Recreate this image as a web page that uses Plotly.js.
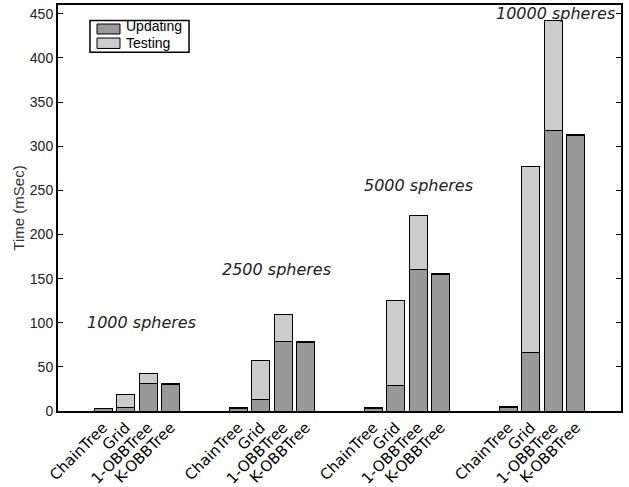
<!DOCTYPE html>
<html>
<head>
<meta charset="utf-8">
<script src="https://cdn.plot.ly/plotly-3.0.1.min.js"></script>
<style>html,body{margin:0;padding:0;background:#fff;}#chart{width:629px;height:487px;}</style>
</head>
<body>
<div id="chart"></div>
<script>
var categories = ['ChainTree', 'Grid', '1-OBBTree', 'K-OBBTree'];
var groups = ['1000 spheres', '2500 spheres', '5000 spheres', '10000 spheres'];
var seriesNames = ['Updating', 'Testing'];
var updating = [
  [2.5, 3.5, 31, 30],
  [3, 12.5, 79, 77.5],
  [2.5, 29, 160, 155],
  [3.5, 66.5, 317.5, 312.5]
];
var testing = [
  [0.5, 15, 12, 1],
  [1, 44.5, 30.5, 1],
  [2, 96, 61, 1],
  [1.5, 210.5, 124.5, 1]
];
var yTicks = [0, 50, 100, 150, 200, 250, 300, 350, 400, 450];

// layout-only placement of the group captions (data coords)
var labelPos = [[1.69, 100], [7.72, 160], [13.99, 256], [20.07, 450]];

var SLOT = 6;
var colors = ['#999999', '#cccccc'];
var xs = [], upd = [], tst = [], ticktext = [];
groups.forEach(function (g, gi) {
  categories.forEach(function (c, ci) {
    xs.push(gi * SLOT + ci);
    upd.push(updating[gi][ci]);
    tst.push(testing[gi][ci]);
    ticktext.push(c);
  });
});

var lineStyle = {color: '#000', width: 1};
var traces = [
  {type: 'bar', name: seriesNames[0], x: xs, y: upd, width: 0.8,
   marker: {color: colors[0], line: lineStyle}},
  {type: 'bar', name: seriesNames[1], x: xs, y: tst, width: 0.8,
   marker: {color: colors[1], line: lineStyle}}
];

var annotations = groups.map(function (g, gi) {
  return {
    text: g, x: labelPos[gi][0], y: labelPos[gi][1], xref: 'x', yref: 'y',
    showarrow: false, xanchor: 'center', yanchor: 'middle',
    font: {family: 'DejaVu Sans', size: 16, color: '#222', style: 'italic'}
  };
});

// compact legend built from shapes + text (paper coords)
var shapes = [
  {type: 'rect', xref: 'paper', yref: 'paper', x0: 0.0568, x1: 0.2327, y0: 0.8835, y1: 0.9618,
   line: {color: '#000', width: 1.5}, fillcolor: '#fff'}
];
var legY = [[0.9286, 0.9532, 0.9483], [0.8929, 0.9187, 0.9064]];
seriesNames.forEach(function (n, i) {
  shapes.push({type: 'rect', xref: 'paper', yref: 'paper', x0: 0.0693, x1: 0.1101,
    y0: legY[i][0], y1: legY[i][1], line: {color: '#000', width: 1}, fillcolor: colors[i]});
  annotations.push({text: n, xref: 'paper', yref: 'paper', x: 0.117, y: legY[i][2],
    xanchor: 'left', yanchor: 'middle', showarrow: false,
    font: {family: 'Liberation Sans', size: 14, color: '#000'}});
});

var layout = {
  width: 629, height: 487,
  margin: {l: 58, r: 8, t: 5, b: 76},
  paper_bgcolor: '#fff', plot_bgcolor: '#fff',
  barmode: 'stack',
  showlegend: false,
  xaxis: {
    range: [-2, 23], automargin: false,
    tickmode: 'array', tickvals: xs, ticktext: ticktext,
    tickangle: -45,
    ticks: '', showgrid: false, zeroline: false,
    showline: true, linewidth: 2, linecolor: '#000', mirror: true,
    tickfont: {family: 'DejaVu Sans', size: 15, color: '#000'}
  },
  yaxis: {
    range: [0, 460], automargin: false,
    tickvals: yTicks,
    ticks: 'inside', ticklen: 5, tickwidth: 1, tickcolor: '#000',
    showgrid: false, zeroline: false,
    showline: true, linewidth: 2, linecolor: '#000', mirror: 'ticks',
    tickfont: {family: 'Liberation Sans', size: 14, color: '#222'},
    title: {text: 'Time (mSec)', font: {family: 'Liberation Sans', size: 15, color: '#333'}, standoff: 2}
  },
  shapes: shapes,
  annotations: annotations
};

Plotly.newPlot('chart', traces, layout, {displayModeBar: false, staticPlot: true});
</script>
</body>
</html>
